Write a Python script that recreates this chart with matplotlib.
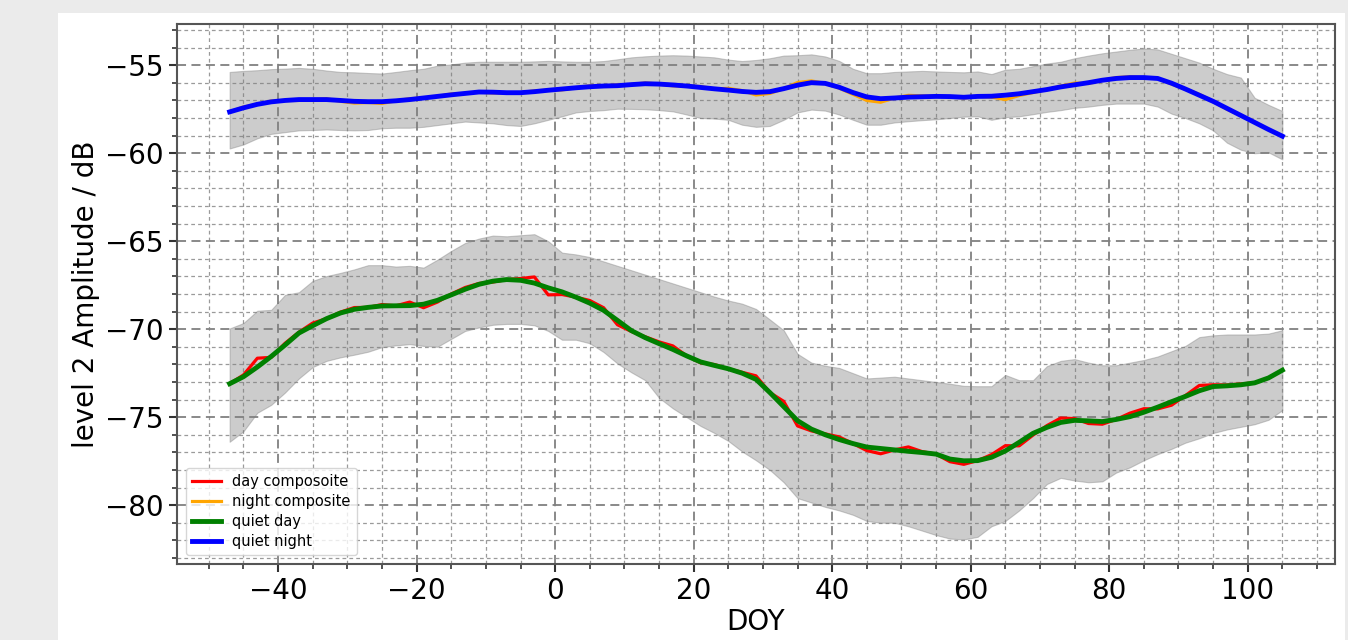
import matplotlib
matplotlib.use("Agg")
import matplotlib.pyplot as plt
from matplotlib.patches import Rectangle
from matplotlib.ticker import MultipleLocator

# DOY sample positions (every 2 days)
doy = list(range(-47, 106, 2))

quiet_day = [-73.10, -72.70, -72.15, -71.55, -70.90, -70.22, -69.80, -69.40, -69.08, -68.87,
             -68.76, -68.68, -68.67, -68.66, -68.58, -68.36, -68.05, -67.73, -67.45, -67.27,
             -67.18, -67.22, -67.38, -67.65, -67.88, -68.18, -68.52, -68.93, -69.50, -70.08,
             -70.48, -70.82, -71.15, -71.52, -71.86, -72.06, -72.25, -72.50, -72.85, -73.60,
             -74.40, -75.20, -75.68, -76.00, -76.27, -76.50, -76.70, -76.78, -76.86, -76.94,
             -77.01, -77.10, -77.38, -77.48, -77.47, -77.28, -76.92, -76.43, -75.92, -75.58,
             -75.30, -75.18, -75.21, -75.25, -75.13, -74.97, -74.72, -74.43, -74.12, -73.82,
             -73.50, -73.26, -73.22, -73.16, -73.05, -72.77, -72.33]

day_composite = [-73.10, -72.60, -71.65, -71.60, -70.80, -70.17, -69.65, -69.40, -69.03, -68.77,
                 -68.76, -68.60, -68.67, -68.46, -68.78, -68.46, -68.00, -67.63, -67.40, -67.32,
                 -67.18, -67.12, -67.03, -68.05, -68.03, -68.18, -68.37, -68.78, -69.75, -70.13,
                 -70.43, -70.72, -70.95, -71.52, -71.91, -72.01, -72.25, -72.45, -72.65, -73.60,
                 -74.10, -75.50, -75.78, -75.95, -76.12, -76.50, -76.90, -77.08, -76.86, -76.69,
                 -76.96, -77.10, -77.53, -77.68, -77.47, -77.13, -76.62, -76.63, -76.02, -75.48,
                 -75.05, -75.08, -75.36, -75.40, -75.13, -74.77, -74.52, -74.53, -74.32, -73.77,
                 -73.20, -73.16, -73.17, -73.11, -73.05, -72.77, -72.33]

day_upper = [-69.96, -69.65, -68.95, -68.90, -68.05, -67.90, -67.25, -66.98, -66.80, -66.60,
             -66.36, -66.36, -66.44, -66.40, -66.50, -66.05, -65.55, -65.10, -64.85, -64.68,
             -64.72, -64.66, -64.60, -65.00, -65.65, -65.75, -65.90, -66.15, -66.40, -66.65,
             -66.90, -67.15, -67.40, -67.65, -67.90, -68.15, -68.37, -68.55, -68.85, -69.45,
             -70.06, -71.40, -71.90, -72.08, -72.20, -72.50, -72.80, -72.75, -72.70, -72.80,
             -72.90, -73.00, -73.10, -73.22, -73.24, -73.24, -72.60, -72.90, -72.90, -72.10,
             -71.80, -71.70, -71.90, -72.05, -72.05, -71.90, -71.75, -71.55, -71.25, -70.95,
             -70.45, -70.35, -70.30, -70.30, -70.30, -70.25, -70.06]

day_lower = [-76.40, -75.80, -74.75, -74.30, -73.60, -72.80, -72.15, -71.80, -71.60, -71.45,
             -71.28, -71.02, -70.92, -70.85, -70.95, -71.00, -70.55, -70.10, -69.90, -69.75,
             -69.70, -69.70, -69.78, -70.10, -70.60, -70.60, -70.80, -71.30, -71.95, -72.45,
             -72.90, -73.90, -74.50, -75.00, -75.50, -75.90, -76.35, -76.95, -77.45, -78.00,
             -78.70, -79.60, -79.85, -80.10, -80.30, -80.55, -80.90, -81.00, -81.00, -81.20,
             -81.45, -81.70, -81.90, -81.95, -81.80, -81.20, -80.90, -80.30, -79.60, -78.80,
             -78.45, -78.60, -78.70, -78.65, -78.15, -77.85, -77.45, -77.10, -76.80, -76.45,
             -76.20, -75.90, -75.70, -75.55, -75.40, -75.15, -74.60]

quiet_night = [-57.65, -57.42, -57.22, -57.08, -57.00, -56.95, -56.95, -56.95, -57.00, -57.05,
               -57.07, -57.07, -57.02, -56.95, -56.86, -56.77, -56.68, -56.60, -56.52, -56.53,
               -56.56, -56.56, -56.50, -56.42, -56.35, -56.28, -56.22, -56.18, -56.16, -56.10,
               -56.05, -56.07, -56.12, -56.18, -56.26, -56.34, -56.41, -56.49, -56.54, -56.50,
               -56.33, -56.13, -55.99, -56.03, -56.25, -56.55, -56.80, -56.90, -56.86, -56.81,
               -56.79, -56.77, -56.78, -56.82, -56.77, -56.76, -56.70, -56.62, -56.50, -56.38,
               -56.23, -56.11, -55.99, -55.85, -55.75, -55.70, -55.70, -55.75, -56.02, -56.35,
               -56.70, -57.05, -57.45, -57.85, -58.25, -58.65, -59.03]

night_composite = [-57.65, -57.37, -57.22, -57.03, -57.00, -57.00, -56.95, -56.90, -57.05, -57.15,
                   -57.12, -57.17, -57.02, -56.90, -56.86, -56.77, -56.63, -56.60, -56.52, -56.58,
                   -56.56, -56.56, -56.45, -56.42, -56.40, -56.28, -56.17, -56.18, -56.11, -56.10,
                   -56.00, -56.07, -56.17, -56.18, -56.21, -56.34, -56.31, -56.44, -56.69, -56.60,
                   -56.33, -55.98, -55.89, -56.03, -56.30, -56.65, -57.00, -57.10, -56.86, -56.71,
                   -56.74, -56.77, -56.78, -56.87, -56.77, -56.81, -56.95, -56.72, -56.55, -56.38,
                   -56.18, -56.01, -56.04, -55.85, -55.70, -55.65, -55.70, -55.75, -56.07, -56.35,
                   -56.65, -57.05, -57.50, -57.85, -58.25, -58.65, -59.03]

night_upper = [-55.38, -55.32, -55.28, -55.22, -55.19, -55.15, -55.20, -55.30, -55.38, -55.40,
               -55.44, -55.47, -55.38, -55.28, -55.20, -55.02, -54.95, -54.85, -54.80, -54.80,
               -54.80, -54.80, -54.78, -54.75, -54.78, -54.80, -54.80, -54.76, -54.66, -54.55,
               -54.49, -54.45, -54.43, -54.45, -54.50, -54.55, -54.68, -54.76, -54.70, -54.60,
               -54.45, -54.43, -54.38, -54.50, -54.75, -55.20, -55.45, -55.45, -55.38, -55.35,
               -55.32, -55.35, -55.38, -55.40, -55.35, -55.50, -55.25, -55.20, -55.05, -54.90,
               -54.80, -54.60, -54.45, -54.32, -54.22, -54.12, -54.05, -54.10, -54.35, -54.60,
               -54.85, -55.20, -55.50, -55.70, -56.85, -57.25, -57.60]

night_lower = [-59.73, -59.50, -59.15, -58.90, -58.80, -58.70, -58.68, -58.65, -58.68, -58.70,
               -58.68, -58.58, -58.55, -58.55, -58.50, -58.40, -58.30, -58.20, -58.25, -58.30,
               -58.40, -58.45, -58.30, -58.10, -57.90, -57.68, -57.60, -57.55, -57.47, -57.48,
               -57.50, -57.55, -57.62, -57.80, -58.00, -58.03, -58.10, -58.38, -58.50, -58.45,
               -58.10, -57.68, -57.52, -57.58, -57.80, -58.10, -58.38, -58.38, -58.25, -58.18,
               -58.12, -58.07, -58.00, -57.92, -57.90, -58.10, -57.95, -57.90, -57.78, -57.65,
               -57.55, -57.42, -57.35, -57.25, -57.18, -57.18, -57.18, -57.35, -57.75, -58.00,
               -58.30, -58.70, -59.40, -59.80, -60.00, -59.95, -60.35]

fig = plt.figure(figsize=(13.48, 6.4), dpi=100)
fig.patch.set_facecolor("#ebebeb")
bg = Rectangle((58 / 1348, 0), (1345 - 58) / 1348, 1 - 13 / 640,
               transform=fig.transFigure, facecolor="white", edgecolor="none", zorder=-10)
fig.add_artist(bg)

ax = fig.add_axes([177 / 1348, 1 - 564 / 640, (1335 - 177) / 1348, (564 - 24) / 640])
ax.set_zorder(1)
ax.set_axisbelow(True)

ax.fill_between(doy, day_lower, day_upper, color="gray", alpha=0.4, lw=0.8)
ax.fill_between(doy, night_lower, night_upper, color="gray", alpha=0.4, lw=0.8)

ax.plot(doy, day_composite, color="red", lw=2.3, label="day composoite")
ax.plot(doy, night_composite, color="orange", lw=2.3, label="night composite")
ax.plot(doy, quiet_day, color="green", lw=3.5, label="quiet day")
ax.plot(doy, quiet_night, color="blue", lw=3.5, label="quiet night")

ax.xaxis.set_major_locator(MultipleLocator(20))
ax.xaxis.set_minor_locator(MultipleLocator(5))
ax.yaxis.set_major_locator(MultipleLocator(5))
ax.yaxis.set_minor_locator(MultipleLocator(1))

ax.grid(which="major", linestyle=(0, (5, 3)), color="#808080", lw=1.3)
ax.grid(which="minor", linestyle=(0, (3, 2.5)), color="#9a9a9a", lw=0.9)

ax.tick_params(which="major", labelsize=20, length=6, width=1.5, color="#333333")
ax.tick_params(which="minor", length=3.5, width=1.2, color="#333333")
for s in ax.spines.values():
    s.set_color("#555555")
    s.set_linewidth(1.5)

ax.set_xlabel("DOY", fontsize=20, labelpad=2)
ax.set_ylabel("level 2 Amplitude / dB", fontsize=20, labelpad=4)

ax.legend(loc="lower left", fontsize=10.5, labelspacing=0.35, borderaxespad=0.6,
          handlelength=2.0)

fig.savefig("out.png", dpi=100, facecolor=fig.get_facecolor())
